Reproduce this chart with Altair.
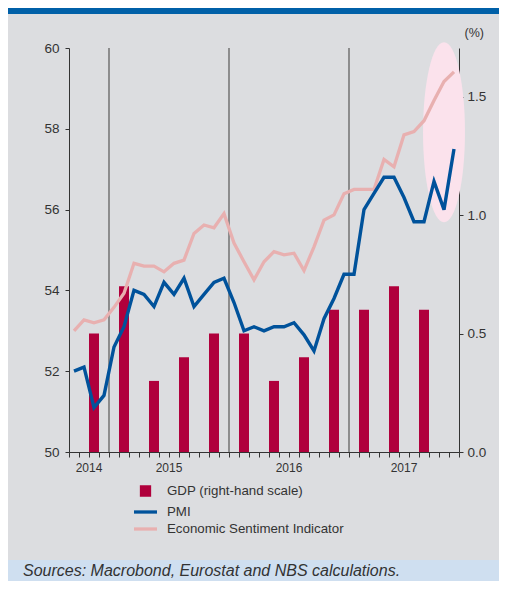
import altair as alt
import pandas as pd

# ---------------- data ----------------
months = [
    "2014-09", "2014-10", "2014-11", "2014-12",
    "2015-01", "2015-02", "2015-03", "2015-04", "2015-05", "2015-06",
    "2015-07", "2015-08", "2015-09", "2015-10", "2015-11", "2015-12",
    "2016-01", "2016-02", "2016-03", "2016-04", "2016-05", "2016-06",
    "2016-07", "2016-08", "2016-09", "2016-10", "2016-11", "2016-12",
    "2017-01", "2017-02", "2017-03", "2017-04", "2017-05", "2017-06",
    "2017-07", "2017-08", "2017-09", "2017-10", "2017-11",
]
pmi = [
    52.0, 52.1, 51.1, 51.4,
    52.6, 53.1, 54.0, 53.9, 53.6, 54.2, 53.9, 54.3, 53.6, 53.9, 54.2, 54.3,
    53.7, 53.0, 53.1, 53.0, 53.1, 53.1, 53.2, 52.9, 52.5, 53.3, 53.8, 54.4,
    54.4, 56.0, 56.4, 56.8, 56.8, 56.3, 55.7, 55.7, 56.7, 56.0, 57.5,
]
esi = [
    53.0, 53.27, 53.2, 53.27,
    53.58, 53.93, 54.67, 54.6, 54.6, 54.46, 54.67, 54.75, 55.41, 55.62, 55.55, 55.9,
    55.17, 54.71, 54.26, 54.71, 54.96, 54.88, 54.92, 54.49, 55.08, 55.74, 55.87, 56.39,
    56.5, 56.5, 56.5, 57.24, 57.06, 57.85, 57.93, 58.2, 58.7, 59.17, 59.41,
]
gdp_quarters = [
    "2014 Q4", "2015 Q1", "2015 Q2", "2015 Q3", "2015 Q4", "2016 Q1",
    "2016 Q2", "2016 Q3", "2016 Q4", "2017 Q1", "2017 Q2", "2017 Q3",
]
gdp = [0.5, 0.7, 0.3, 0.4, 0.5, 0.5, 0.3, 0.4, 0.6, 0.6, 0.7, 0.6]
left_ticks = [50, 52, 54, 56, 58, 60]
right_ticks = [0.0, 0.5, 1.0, 1.5]
legend_labels = ["GDP (right-hand scale)", "PMI", "Economic Sentiment Indicator"]
source_text = "Sources: Macrobond, Eurostat and NBS calculations."
highlight_months = ["2017-09", "2017-10", "2017-11"]

# ---------------- styles ----------------
W, H = 390, 404
FONT = "Liberation Sans"
TXT = "#333333"
C_GDP = "#b0003c"
C_PMI = "#00529b"
C_ESI = "#e8b0b0"
BG = "#dcdde0"

n = len(months)
line_df = pd.DataFrame({
    "month": months,
    "mid": [i + 0.5 for i in range(n)],
    "PMI": pmi,
    "ESI": esi,
})

bar_rows = []
for q, v in zip(gdp_quarters, gdp):
    year, qq = q.split(" Q")
    mid_month = f"{year}-{3 * int(qq) - 1:02d}"
    s = months.index(mid_month)
    bar_rows.append({"quarter": q, "start": s, "end": s + 1, "gdp": v})
bar_df = pd.DataFrame(bar_rows)

years = sorted(set(m[:4] for m in months))
year_rows = []
for y in years:
    idxs = [i for i, m in enumerate(months) if m.startswith(y)]
    year_rows.append({"year": y, "pos": (idxs[0] + idxs[-1] + 1) / 2})
year_df = pd.DataFrame(year_rows)

sep_df = pd.DataFrame({"pos": [i for i, m in enumerate(months) if m.endswith("-01")]})

hl = line_df[line_df["month"].isin(highlight_months)]
hl_df = pd.DataFrame({
    "cx": [hl["mid"].mean()],
    "cy": [(hl["PMI"].mean() + hl["ESI"].mean()) / 2],
})

legend_df = pd.DataFrame({"series": legend_labels})

# ---------------- scales / axes ----------------
x_scale = alt.Scale(domain=[0, n], nice=False, zero=False)
x_axis = alt.Axis(values=list(range(n + 1)), labels=False, title=None, grid=False,
                  tickSize=5, domainColor=TXT, tickColor=TXT, domainWidth=1)
yl_scale = alt.Scale(domain=[50, 60], nice=False, zero=False)
yr_scale = alt.Scale(domain=[0, 1.705], nice=False, zero=False)

one = alt.Data(values=[{}])

header = alt.Chart(one).mark_rect(color="#0060a8").encode(
    x=alt.value(-61), x2=alt.value(430), y=alt.value(-40), y2=alt.value(-34))
footer = alt.Chart(one).mark_rect(color="#cfdff0").encode(
    x=alt.value(-61), x2=alt.value(430), y=alt.value(512), y2=alt.value(533))
footer_text = alt.Chart(one).mark_text(
    text=source_text, font=FONT, fontStyle="italic", fontSize=16, color=TXT,
    align="left", baseline="middle").encode(x=alt.value(-46), y=alt.value(523))

ellipse_path = "M-0.233,0A0.233,1,0,1,0,0.233,0A0.233,1,0,1,0,-0.233,0Z"
ellipse = alt.Chart(hl_df).mark_point(
    shape=ellipse_path, size=32400, filled=True, color="#fbe2ec", opacity=1,
    strokeWidth=0).encode(
    x=alt.X("cx:Q", scale=x_scale, axis=x_axis),
    y=alt.Y("cy:Q", scale=yl_scale, axis=None))

bars = alt.Chart(bar_df).mark_rect(color=C_GDP).encode(
    x=alt.X("start:Q", scale=x_scale, axis=x_axis),
    x2="end:Q",
    y=alt.Y("gdp:Q", scale=yr_scale, axis=alt.Axis(
        orient="right", values=right_ticks, format=".1f", grid=False,
        tickSize=4, labelPadding=4, domainColor=TXT, tickColor=TXT,
        title="(%)", titleAngle=0, titleAlign="left", titleBaseline="middle",
        titleX=5, titleY=-16, titleFont=FONT, titleFontSize=12.5,
        titleFontWeight="normal", titleColor=TXT)),
    y2=alt.datum(0))

seps = alt.Chart(sep_df).mark_rule(color="#6a6a6a", strokeWidth=1.4).encode(
    x=alt.X("pos:Q", scale=x_scale, axis=x_axis),
    y=alt.value(0), y2=alt.value(H))

esi_line = alt.Chart(line_df).mark_line(color=C_ESI, strokeWidth=3.3).encode(
    x=alt.X("mid:Q", scale=x_scale, axis=x_axis),
    y=alt.Y("ESI:Q", scale=yl_scale, axis=None))

pmi_line = alt.Chart(line_df).mark_line(color=C_PMI, strokeWidth=3.4).encode(
    x=alt.X("mid:Q", scale=x_scale, axis=x_axis),
    y=alt.Y("PMI:Q", scale=yl_scale, axis=alt.Axis(
        orient="left", values=left_ticks, format="d", grid=False, title=None,
        tickSize=4, labelPadding=6, domainColor=TXT, tickColor=TXT)))

year_text = alt.Chart(year_df).mark_text(
    font=FONT, fontSize=12, color=TXT, baseline="middle", align="center").encode(
    x=alt.X("pos:Q", scale=x_scale, axis=x_axis),
    y=alt.value(H + 16),
    text="year:N")

LEG = alt.Legend(title=None, orient="none", legendX=66.5, legendY=433,
                 labelFont=FONT, labelFontSize=13.3, labelColor=TXT, labelLimit=400,
                 symbolSize=256, symbolStrokeWidth=3.3, symbolOpacity=1,
                 labelOffset=11.5, rowPadding=0, padding=0)
legend_shapes = ["M-0.5,-0.5H0.5V0.5H-0.5Z", "M-1.44,0H1.44", "M-1.44,0H1.44"]
legend_colors = [C_GDP, C_PMI, C_ESI]
legend_layer = alt.Chart(legend_df).mark_point(
    filled=True, opacity=0, size=256, strokeWidth=3.3).encode(
    color=alt.Color("series:N", scale=alt.Scale(domain=legend_labels, range=legend_colors), legend=LEG),
    stroke=alt.Stroke("series:N", scale=alt.Scale(domain=legend_labels, range=legend_colors), legend=LEG),
    shape=alt.Shape("series:N", scale=alt.Scale(domain=legend_labels, range=legend_shapes), legend=LEG),
)

chart = alt.layer(
    header, footer, footer_text, ellipse, bars, seps, esi_line, pmi_line,
    year_text, legend_layer,
).resolve_scale(y="independent").properties(
    width=W, height=H,
    autosize=alt.AutoSizeParams(type="none"),
    padding={"left": 61, "top": 40, "right": 40, "bottom": 129},
    background=BG,
).configure_view(strokeWidth=0).configure_axis(
    labelFont=FONT, labelFontSize=13.5, labelColor=TXT,
)

chart.save("out.html", embed_options={"renderer": "svg", "actions": False})
